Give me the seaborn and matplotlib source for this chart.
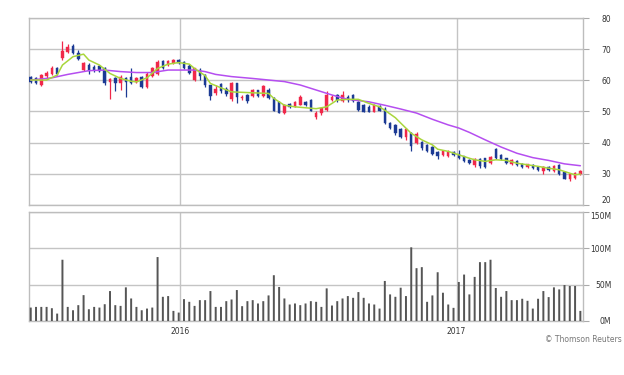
import pandas as pd
import numpy as np
import matplotlib
matplotlib.use("Agg")
import matplotlib.pyplot as plt
import seaborn as sns

# weekly candles, Jun 2015 - Jun 2017
start_date = "2015-06-17"
n_weeks = 105

opens = [61.1, 60.7, 58.6, 61.3, 62.0, 64.0, 67.3, 69.0, 71.1, 68.8,
         63.4, 64.9, 64.4, 64.6, 63.8, 59.6, 60.8, 59.3, 60.8, 61.2,
         59.6, 61.1, 57.8, 61.3, 61.9, 66.3, 64.9, 65.5, 66.5, 65.8,
         64.6, 60.0, 63.2, 61.6, 58.4, 55.8, 58.8, 57.3, 53.9, 59.0,
         54.3, 55.2, 55.0, 56.8, 55.1, 56.8, 54.3, 53.0, 49.6, 52.5,
         51.6, 52.2, 53.1, 53.6, 48.3, 49.4, 50.6, 53.8, 55.2, 53.3,
         54.7, 55.2, 53.1, 52.0, 51.6, 50.0, 51.7, 50.9, 46.2, 45.6,
         44.4, 41.9, 43.0, 39.8, 40.2, 39.3, 38.6, 37.0, 36.1, 35.8,
         37.0, 36.4, 35.6, 34.3, 32.7, 34.8, 35.0, 33.5, 37.9, 36.0,
         35.0, 33.2, 34.1, 33.3, 32.1, 32.8, 32.3, 31.0, 32.2, 30.8,
         32.7, 30.5, 28.2, 28.7, 29.9]
highs = [61.5, 61.0, 62.0, 63.0, 64.5, 64.3, 72.5, 71.5, 71.6, 69.8,
         66.0, 65.5, 64.8, 65.0, 64.4, 60.6, 61.2, 61.6, 61.2, 63.9,
         61.2, 61.5, 62.8, 64.2, 66.5, 66.6, 66.6, 66.7, 66.8, 66.2,
         65.2, 64.0, 63.9, 62.0, 58.6, 58.4, 59.2, 57.8, 59.5, 59.3,
         55.3, 55.5, 57.2, 57.0, 58.6, 57.7, 54.5, 53.3, 52.3, 52.8,
         53.4, 55.2, 53.5, 53.9, 50.0, 51.2, 56.5, 55.3, 55.6, 56.5,
         55.2, 55.6, 53.5, 52.3, 52.0, 52.3, 52.0, 51.3, 46.5, 46.0,
         44.8, 44.8, 43.5, 43.3, 40.5, 39.6, 38.8, 37.2, 37.8, 37.5,
         37.2, 37.5, 35.8, 34.6, 35.2, 35.2, 35.2, 35.8, 38.4, 36.4,
         35.2, 34.7, 34.4, 33.6, 33.3, 33.0, 32.6, 32.5, 32.5, 32.9,
         33.0, 30.8, 30.0, 30.6, 31.2]
lows = [59.2, 58.7, 58.3, 60.4, 61.6, 61.6, 66.6, 68.7, 68.4, 66.5,
        63.0, 61.9, 62.6, 62.8, 58.6, 54.1, 56.5, 56.8, 54.5, 58.7,
        59.0, 57.5, 57.5, 61.0, 61.7, 63.5, 64.7, 65.3, 65.3, 63.5,
        62.0, 59.8, 60.0, 58.0, 53.7, 55.3, 56.0, 55.0, 53.5, 52.6,
        53.7, 52.6, 54.6, 54.6, 54.8, 54.0, 50.0, 49.4, 49.3, 51.2,
        51.3, 52.0, 51.8, 50.0, 47.6, 49.0, 50.3, 53.3, 53.2, 53.0,
        53.2, 53.0, 50.3, 49.8, 49.8, 49.8, 50.0, 46.0, 44.3, 42.5,
        41.5, 41.0, 37.2, 39.5, 37.8, 37.0, 36.0, 34.7, 35.8, 35.5,
        35.8, 34.7, 33.9, 33.1, 32.3, 32.0, 31.8, 33.2, 34.8, 34.3,
        33.2, 32.8, 32.5, 31.8, 31.9, 31.6, 30.9, 30.0, 30.9, 30.5,
        29.5, 28.2, 27.7, 28.4, 29.7]
closes = [59.6, 59.0, 61.7, 62.4, 64.1, 61.9, 69.4, 70.6, 68.7, 66.8,
          65.5, 63.0, 63.2, 63.1, 59.2, 60.3, 59.0, 61.0, 59.6, 59.0,
          60.6, 57.8, 62.0, 63.8, 66.0, 63.8, 66.2, 66.4, 65.6, 64.0,
          62.5, 63.8, 61.3, 58.6, 55.0, 57.2, 56.6, 55.5, 59.2, 54.8,
          54.8, 53.3, 56.8, 54.9, 58.3, 54.3, 50.3, 49.6, 52.0, 51.6,
          53.1, 54.7, 52.2, 50.3, 49.6, 51.0, 55.2, 54.6, 53.8, 55.2,
          53.6, 53.3, 50.6, 50.0, 50.0, 52.0, 50.3, 46.3, 44.7, 43.0,
          41.9, 44.4, 39.0, 42.8, 38.2, 37.3, 36.3, 35.8, 37.4, 37.1,
          36.1, 35.0, 34.2, 33.4, 34.8, 32.4, 32.1, 35.4, 35.1, 34.6,
          33.5, 34.4, 32.8, 32.1, 33.0, 31.9, 31.1, 32.2, 31.1, 32.6,
          29.8, 28.5, 29.8, 30.3, 30.8]

# weekly volume, millions
volumes = [18.5, 19.4, 19.4, 19.4, 17.6, 10.2, 84.3, 19.4, 14.8, 21.8,
           35.6, 16.2, 19.4, 18.5, 23.1, 41.2, 21.8, 20.8, 46.3, 31.0,
           19.4, 14.8, 17.1, 18.5, 88.0, 33.3, 34.3, 13.9, 11.6, 30.1,
           26.4, 20.8, 28.7, 28.7, 41.2, 19.4, 19.4, 27.3, 29.6, 42.6,
           20.4, 27.3, 28.7, 24.1, 27.3, 35.2, 63.0, 46.8, 31.0, 22.7,
           24.1, 21.8, 24.1, 27.3, 26.4, 19.4, 44.9, 21.3, 27.3, 31.0,
           34.3, 31.9, 39.8, 31.9, 24.1, 22.7, 17.1, 55.1, 36.6, 33.3,
           45.8, 34.3, 101.4, 72.7, 74.1, 26.4, 35.2, 67.1, 38.9, 22.7,
           18.1, 53.7, 63.9, 36.6, 60.7, 81.0, 81.0, 84.3, 45.4, 33.3,
           41.2, 28.7, 28.7, 30.6, 27.8, 17.1, 30.6, 41.2, 32.9, 46.3,
           43.5, 49.5, 48.2, 48.2, 13.9]

# moving averages (week index, value)
ma_short_week = [0, 3, 5, 6, 8, 10, 11, 13, 15, 17, 19, 20, 22, 24, 26, 28,
                 30, 31, 33, 34, 36, 38, 42, 45, 46, 48, 50, 52, 54, 56, 58,
                 60, 62, 64, 66, 67, 69, 70, 72, 74, 76, 77, 79, 81, 83, 84,
                 86, 88, 90, 92, 94, 96, 98, 100, 102, 103, 104]
ma_short = [60.1, 60.1, 61.7, 64.9, 67.6, 68.4, 66.5, 64.9, 62.2, 60.6, 59.7,
            59.5, 60.8, 63.8, 65.2, 65.7, 65.2, 63.8, 61.5, 59.0, 57.6, 56.3,
            56.0, 55.8, 54.2, 52.0, 51.5, 51.2, 50.9, 51.5, 53.7, 53.9, 53.9,
            52.6, 51.5, 50.4, 48.0, 46.3, 43.0, 40.9, 39.3, 37.9, 37.2, 36.1,
            35.0, 34.5, 34.0, 34.5, 34.3, 33.4, 32.9, 32.4, 31.8, 31.3, 30.2,
            29.7, 29.9]
ma_long_week = [0, 4, 7, 11, 14, 17, 20, 23, 26, 28, 31, 33, 35, 38, 42, 45,
                48, 51, 54, 57, 60, 64, 67, 70, 73, 76, 79, 81, 83, 86, 89,
                92, 95, 98, 101, 104]
ma_long = [60.1, 60.8, 61.9, 63.1, 63.3, 62.8, 62.5, 62.5, 63.3, 63.3, 63.3,
           62.8, 61.9, 61.2, 60.6, 60.1, 59.6, 58.5, 56.9, 55.3, 53.9, 53.1,
           52.0, 50.8, 49.5, 47.5, 45.7, 44.7, 43.3, 40.9, 38.6, 36.6, 35.2,
           34.3, 33.2, 32.6]

price_ticks = [20, 30, 40, 50, 60, 70, 80]
vol_ticks = [0, 50, 100, 150]
vol_labels = ["0M", "50M", "100M", "150M"]
year_ticks = ["2016-01-01", "2017-01-01"]
year_labels = ["2016", "2017"]

dates = pd.date_range(start_date, periods=n_weeks, freq="7D")
df = pd.DataFrame({"date": dates, "open": opens, "high": highs,
                   "low": lows, "close": closes, "volume": volumes})
up = df["close"] >= df["open"]

sns.set_theme(style="white")
plt.rcParams["font.family"] = ["DejaVu Sans"]

red = "#f0284a"
blue = "#1c3a94"
grid_c = "#c4c4c4"

fig = plt.figure(figsize=(6.24, 3.75), dpi=100)
ax1 = fig.add_axes([29/624, 1-205/375, 554/624, 187/375])
ax2 = fig.add_axes([29/624, 1-321/375, 554/624, 109/375], sharex=ax1)

colors = np.where(up, red, blue)
ax1.vlines(df["date"], df["low"], df["high"], colors=colors, lw=0.9, zorder=3)
body_bottom = np.minimum(df["open"], df["close"])
body_h = np.maximum((df["close"] - df["open"]).abs(), 0.3)
ax1.bar(df["date"], body_h, bottom=body_bottom, width=3.3, color=colors,
        edgecolor=colors, linewidth=0.3, zorder=4)

sns.lineplot(x=dates[ma_long_week], y=ma_long, ax=ax1, color="#b54ef0", lw=1.1, zorder=5)
sns.lineplot(x=dates[ma_short_week], y=ma_short, ax=ax1, color="#a9d63c", lw=1.1, zorder=5)

vol_bars = ax2.bar(df["date"], df["volume"], width=2.6, color="#555555",
                   linewidth=0, zorder=3)
for b in vol_bars:
    b.set_snap(False)

ax1.set_ylim(20, 80)
ax2.set_ylim(0, 150)
ax1.set_xlim(dates[0] - pd.Timedelta(days=2.3), dates[-1] + pd.Timedelta(days=3.5))

years = pd.to_datetime(year_ticks)
for ax, ticks in ((ax1, price_ticks), (ax2, vol_ticks)):
    ax.yaxis.tick_right()
    ax.set_yticks(ticks)
    for t in ticks:
        ax.axhline(t, color=grid_c, lw=1.0, zorder=1)
    for y in years:
        ax.axvline(y, color=grid_c, lw=1.0, zorder=1)
    for s in ax.spines.values():
        s.set_color("#bdbdbd")
        s.set_linewidth(1.0)
    ax.tick_params(axis="y", which="both", right=True, length=4, width=0.8,
                   color="#aaaaaa", pad=16.5, labelsize=5.5, labelcolor="#333333")
    ax.set_xlabel("")
    ax.set_ylabel("")

ax1.set_yticklabels([str(t) for t in price_ticks])
ax2.set_yticklabels(vol_labels)
for lab in ax1.get_yticklabels() + ax2.get_yticklabels():
    lab.set_horizontalalignment("right")
# bottom price label and top volume label sit close together
ax1.get_yticklabels()[0].set_verticalalignment("bottom")
ax2.get_yticklabels()[-1].set_verticalalignment("top")

ax1.tick_params(axis="x", bottom=False, labelbottom=False)
ax2.set_xticks(years)
ax2.set_xticklabels(year_labels)
ax2.tick_params(axis="x", length=0, pad=4, labelsize=5.5, labelcolor="#333333")

fig.text(0.997, 1-340/375, "\u00a9 Thomson Reuters", ha="right", va="center",
         fontsize=5.5, color="#777777")

fig.savefig("out.png", dpi=100)
